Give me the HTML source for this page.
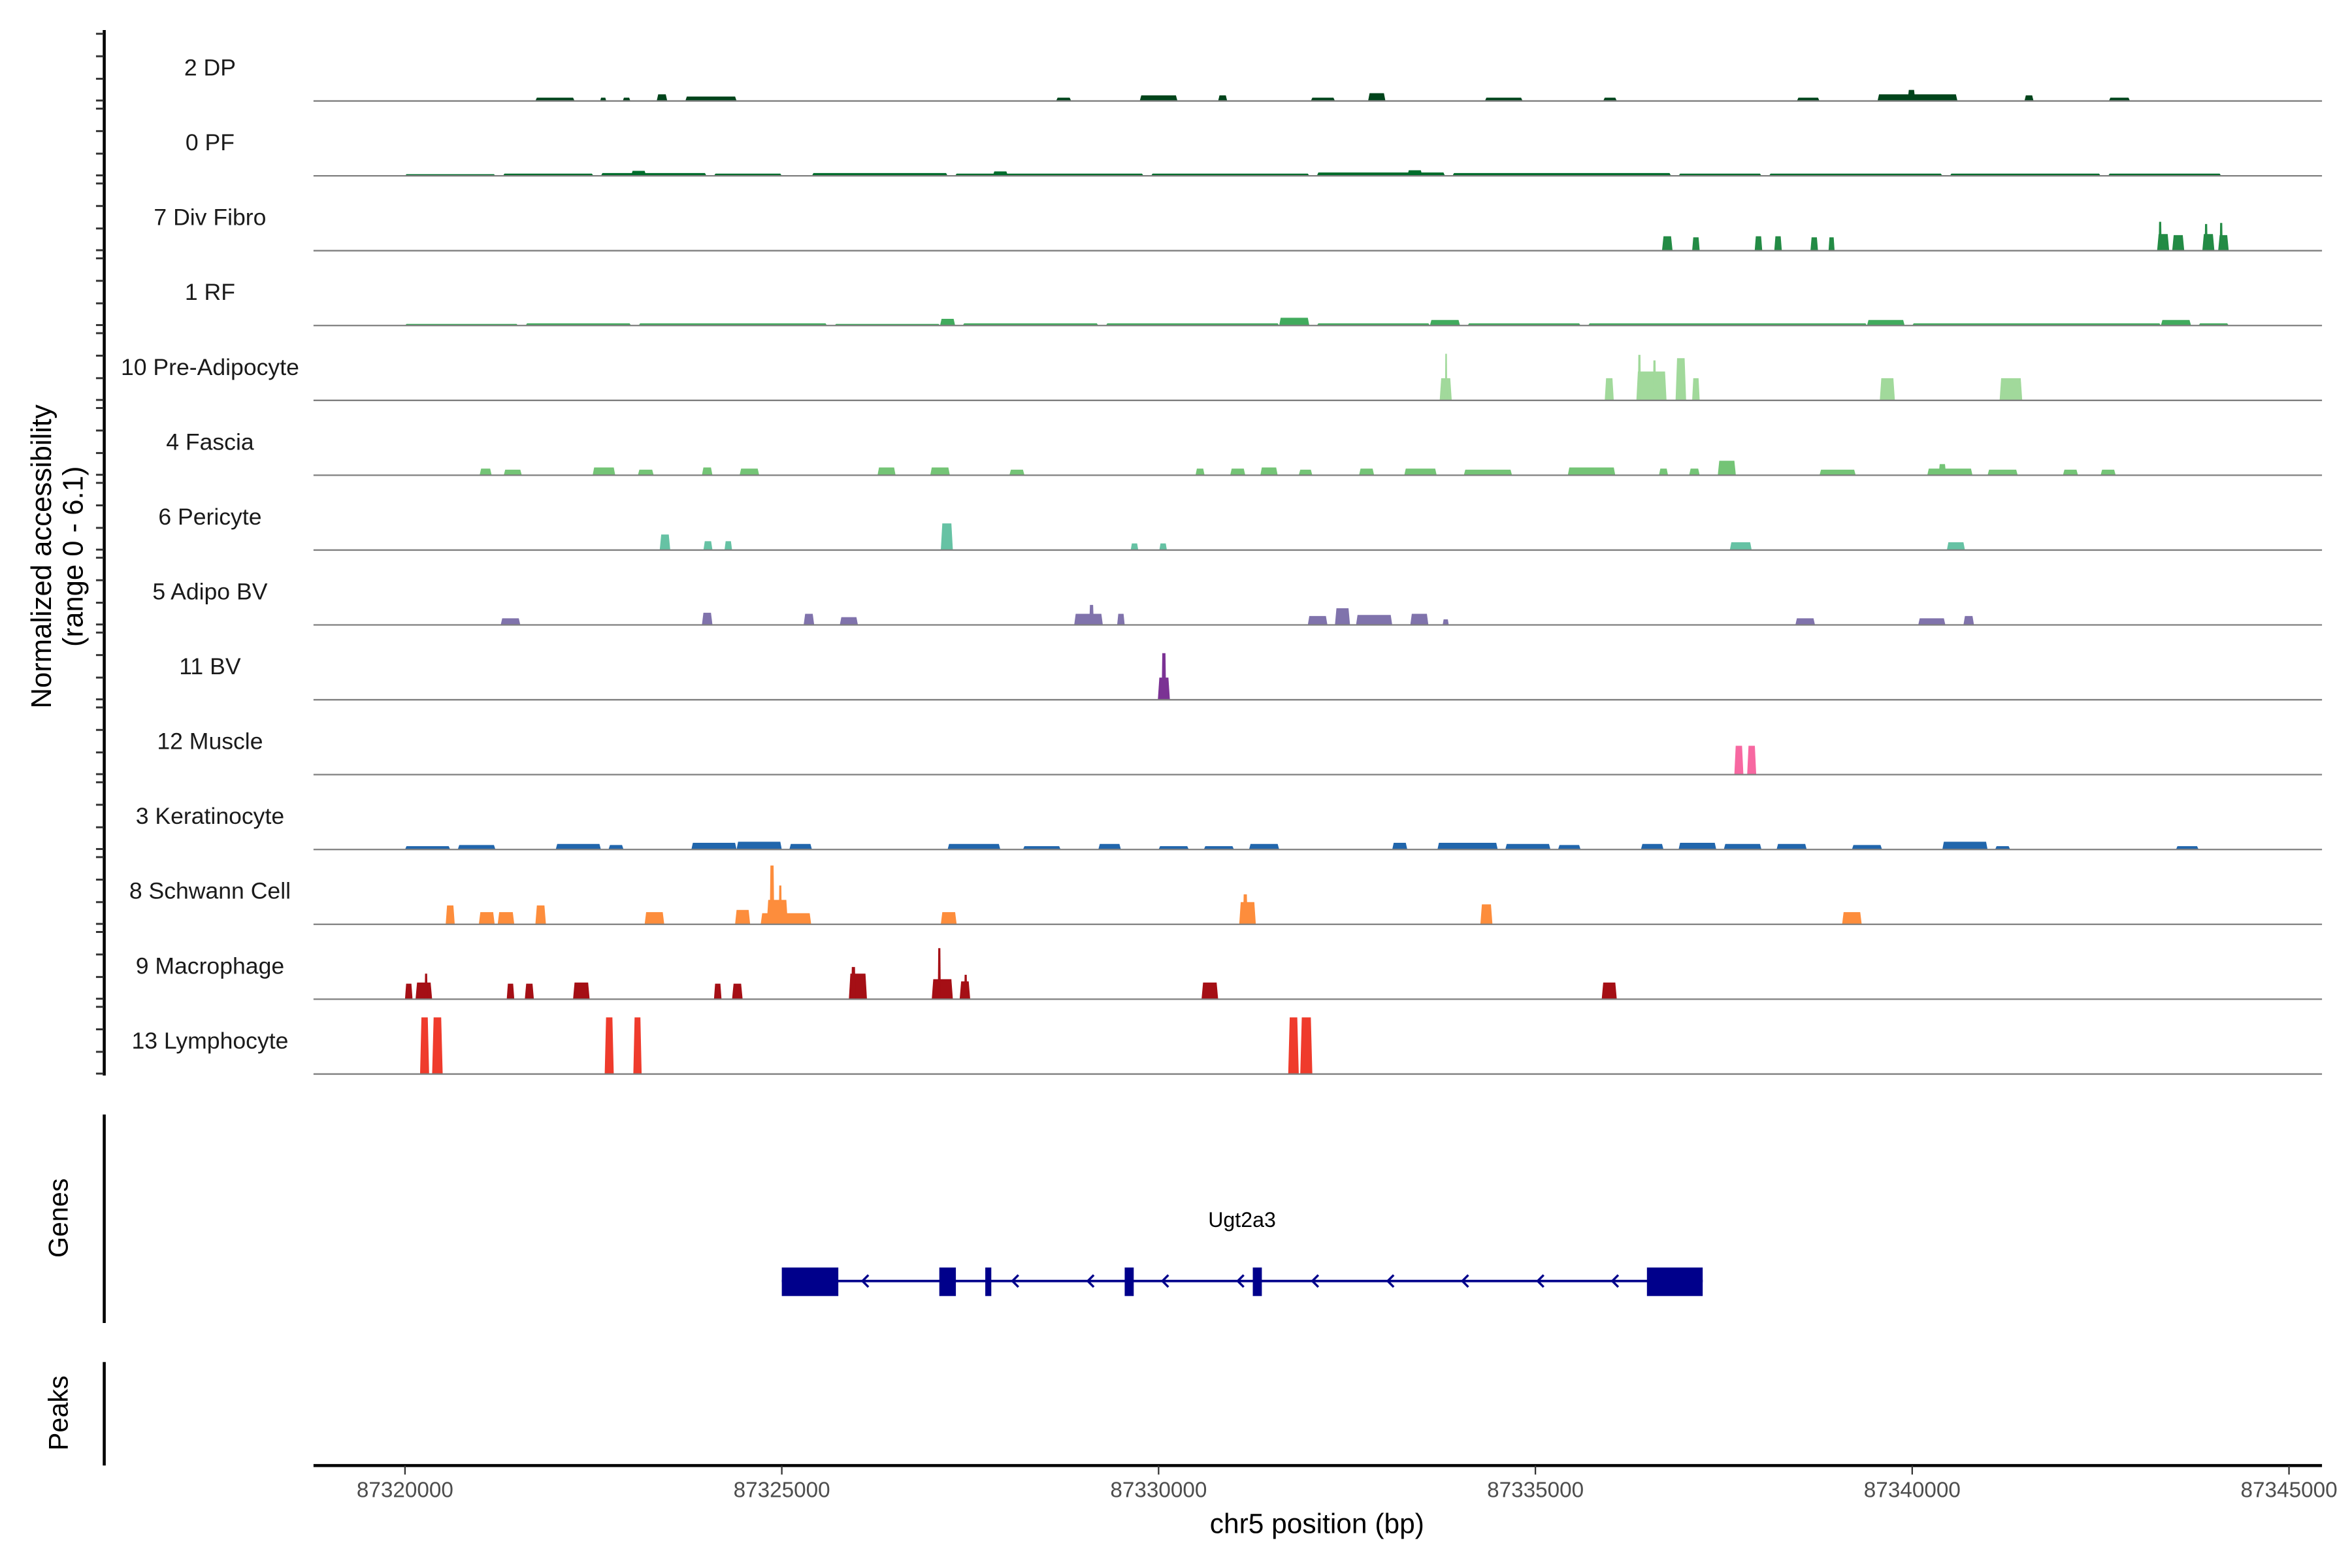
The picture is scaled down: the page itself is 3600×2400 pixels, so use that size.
<!DOCTYPE html>
<html><head><meta charset="utf-8"><style>
html,body{margin:0;padding:0;background:#fff;}
svg{display:block;font-family:"Liberation Sans",sans-serif;}
</style></head><body>
<svg id="chart" width="3600" height="2400" viewBox="0 0 1568 1045.3" xmlns="http://www.w3.org/2000/svg">
<rect width="1568" height="1045.3" fill="#fff"/>
<g id="tracks"></g>
<g id="axes"></g>
<g id="gene"></g>
<text transform="translate(34,371) rotate(-90)" text-anchor="middle" font-size="19" fill="#000">Normalized accessibility</text>
<text transform="translate(55,371) rotate(-90)" text-anchor="middle" font-size="19" fill="#000">(range 0 - 6.1)</text>
<text transform="translate(45,812) rotate(-90)" text-anchor="middle" font-size="18" fill="#000">Genes</text>
<text transform="translate(45,942) rotate(-90)" text-anchor="middle" font-size="18" fill="#000">Peaks</text>
<text x="878" y="1022" text-anchor="middle" font-size="18.5" fill="#000">chr5 position (bp)</text>
<text x="828" y="818" text-anchor="middle" font-size="14" fill="#000">Ugt2a3</text>
</svg>
<script>
// genomic offsets in kb from 87,320,000
const trackNames = ["2 DP","0 PF","7 Div Fibro","1 RF","10 Pre-Adipocyte","4 Fascia","6 Pericyte","5 Adipo BV","11 BV","12 Muscle","3 Keratinocyte","8 Schwann Cell","9 Macrophage","13 Lymphocyte"];
const trackColors = ["#00441b","#006d2c","#238b45","#41ab5d","#a1d99b","#74c476","#66c2a4","#8073ac","#7b3294","#f768a1","#2166ac","#fd8d3c","#a50f15","#ef3b2c"];
const peaksDP = [[1.73,2.25,.3],[2.59,2.67,.3],[2.89,2.99,.3],[3.34,3.48,.6],[3.72,4.40,.4],[8.64,8.84,.3],[9.75,10.25,.5],[10.79,10.91,.5],[12.02,12.34,.3],[12.78,13.01,.7],[14.33,14.83,.3],[15.90,16.08,.3],[18.47,18.77,.3],[19.54,20.60,.6],[19.94,20.04,1.0],[21.49,21.61,.5],[22.61,22.89,.3]];
const peaksPF = [[0,1.2,.15],[1.3,2.5,.2],[2.6,4.0,.25],[3.0,3.2,.45],[4.1,5.0,.2],[5.4,7.2,.25],[7.3,9.8,.2],[7.8,8.0,.4],[9.9,12.0,.2],[12.1,13.8,.3],[13.3,13.5,.5],[13.9,16.8,.25],[16.9,18.0,.2],[18.1,20.4,.2],[20.5,22.5,.2],[22.6,24.1,.2]];
const peaksDivFibro = [[16.68,16.82,1.3],[17.08,17.18,1.2],[17.91,18.01,1.3],[18.17,18.27,1.3],[18.65,18.75,1.2],[18.89,18.97,1.2],[23.25,23.41,1.5],[23.27,23.31,2.6],[23.45,23.61,1.4],[23.85,24.01,1.5],[23.88,23.92,2.4],[24.06,24.20,1.4],[24.08,24.12,2.5]];
const peaksRF = [[0,1.5,.15],[1.6,3.0,.2],[3.1,5.6,.2],[5.7,7.1,.15],[7.1,7.3,.6],[7.4,9.2,.2],[9.3,11.6,.2],[11.6,12.0,.7],[12.1,13.6,.2],[13.6,14.0,.5],[14.1,15.6,.2],[15.7,19.4,.2],[19.4,19.9,.5],[20.0,23.3,.2],[23.3,23.7,.5],[23.8,24.2,.2]];
const peaksPreAdipo = [[13.73,13.89,2],[13.80,13.83,4.2],[15.92,16.04,2],[16.34,16.74,2.6],[16.36,16.40,4.1],[16.56,16.60,3.6],[16.86,17.00,3.8],[17.08,17.18,2],[19.57,19.77,2],[21.16,21.46,2]];
const peaksFascia = [[0.99,1.15,.6],[1.31,1.55,.5],[2.49,2.79,.7],[3.09,3.30,.5],[3.94,4.08,.7],[4.44,4.70,.6],[6.27,6.51,.7],[6.97,7.23,.7],[8.02,8.22,.5],[10.49,10.61,.6],[10.95,11.15,.6],[11.35,11.58,.7],[11.86,12.04,.5],[12.66,12.86,.6],[13.26,13.69,.6],[14.05,14.69,.5],[15.43,16.06,.7],[16.64,16.76,.6],[17.04,17.18,.6],[17.42,17.66,1.3],[18.77,19.25,.5],[20.20,20.80,.6],[20.35,20.45,1.0],[21.0,21.4,.5],[22.0,22.2,.5],[22.5,22.7,.5]];
const peaksPericyte = [[3.38,3.52,1.4],[3.96,4.08,.8],[4.24,4.34,.8],[7.11,7.27,2.4],[9.63,9.73,.6],[10.01,10.11,.6],[17.58,17.87,.7],[20.46,20.70,.7]];
const peaksAdipoBV = [[1.27,1.53,.6],[3.94,4.08,1.1],[5.29,5.43,1.0],[5.77,6.01,.7],[8.88,9.26,1.0],[9.08,9.14,1.8],[9.45,9.55,1.0],[11.98,12.24,.8],[12.34,12.54,1.5],[12.62,13.10,.9],[13.34,13.58,1.0],[13.77,13.85,.5],[18.45,18.71,.6],[20.08,20.44,.6],[20.68,20.82,.8]];
const peaksBV = [[9.99,10.15,2],[10.04,10.10,4.2]];
const peaksMuscle = [[17.64,17.76,2.6],[17.81,17.93,2.6]];
const peaksKerat = [[0,0.6,.3],[0.7,1.2,.4],[2.0,2.6,.5],[2.7,2.9,.4],[3.8,4.4,.6],[4.4,5.0,.7],[5.1,5.4,.5],[7.2,7.9,.5],[8.2,8.7,.3],[9.2,9.5,.5],[10.0,10.4,.3],[10.6,11.0,.3],[11.2,11.6,.5],[13.1,13.3,.6],[13.7,14.5,.6],[14.6,15.2,.5],[15.3,15.6,.4],[16.4,16.7,.5],[16.9,17.4,.6],[17.5,18.0,.5],[18.2,18.6,.5],[19.2,19.6,.4],[20.4,21.0,.7],[21.1,21.3,.3],[23.5,23.8,.3]];
const peaksSchwann = [[0.54,0.66,1.7],[0.98,1.19,1.1],[1.23,1.45,1.1],[1.73,1.87,1.7],[3.18,3.44,1.1],[4.38,4.58,1.3],[4.72,5.39,1.0],[4.80,5.08,2.2],[4.84,4.90,5.3],[4.96,5.00,3.5],[7.11,7.32,1.1],[11.07,11.29,2.0],[11.12,11.18,2.7],[14.27,14.43,1.8],[19.07,19.33,1.1]];
const peaksMacro = [[0,0.1,1.4],[0.14,0.36,1.5],[0.26,0.30,2.3],[1.35,1.45,1.4],[1.59,1.71,1.4],[2.23,2.45,1.5],[4.10,4.20,1.4],[4.34,4.48,1.4],[5.89,6.13,2.3],[5.92,5.98,2.9],[6.99,7.27,1.8],[7.07,7.11,4.6],[7.36,7.50,1.6],[7.42,7.46,2.2],[10.57,10.79,1.5],[15.88,16.08,1.5]];
const peaksLymph = [[0.2,0.32,5.1],[0.36,0.5,5.1],[2.65,2.77,5.1],[3.03,3.14,5.1],[11.72,11.86,5.1],[11.88,12.04,5.1]];
const allPeaks = [peaksDP,peaksPF,peaksDivFibro,peaksRF,peaksPreAdipo,peaksFascia,peaksPericyte,peaksAdipoBV,peaksBV,peaksMuscle,peaksKerat,peaksSchwann,peaksMacro,peaksLymph];
const xTicks = [87320000,87325000,87330000,87335000,87340000,87345000];
const exons = [[5.0,5.75],[7.09,7.31],[7.70,7.78],[9.55,9.67],[11.25,11.37],[16.48,17.22]];
const geneSpan = [5.0,17.22];
const strandArrows = [6.07,8.06,9.06,10.05,11.05,12.04,13.04,14.03,15.03,16.02];

const NS="http://www.w3.org/2000/svg";
const xs = kb => 270 + kb*50.24;
const xbp = bp => xs((bp-87320000)/1000);
const base = i => 67.3 + i*49.9;
const hs = v => v*7.4;
function mk(tag, attrs, parent){const e=document.createElementNS(NS,tag);for(const k in attrs)e.setAttribute(k,attrs[k]);parent.appendChild(e);return e;}
const tracks=document.getElementById('tracks');
trackNames.forEach((name,i)=>{
  const g=mk('g',{},tracks);
  
  
  const b=base(i);
  const lab=mk('text',{x:140,y:b-17,'text-anchor':'middle','font-size':15.5,fill:'#1a1a1a'},g);
  lab.textContent=name;
  
  
  allPeaks[i].forEach(p=>{
    const x0=xs(p[0]),x1=Math.max(xs(p[1]),x0+1.2),t=b-hs(p[2]),w=x1-x0,sl=Math.min(1,w*0.15);
    const poly=mk('polygon',{points:`${x0},${b} ${x0+sl},${t} ${x1-sl},${t} ${x1},${b}`,fill:trackColors[i]},g);
    
    
  });
  const bl=mk('line',{x1:209,x2:1548,y1:b,y2:b,stroke:'#7f7f7f','stroke-width':1},g);
  
  
});
const axes=document.getElementById('axes');
mk('line',{x1:69.5,x2:69.5,y1:20,y2:717,stroke:'#000','stroke-width':2},axes);
for(let i=0;i<14;i++){[0,15,30,44.5].forEach(o=>{const y=22.5+i*49.9+o;mk('line',{x1:64,x2:69,y1:y,y2:y,stroke:'#333','stroke-width':1.3},axes);});}
mk('line',{x1:69.5,x2:69.5,y1:743,y2:882,stroke:'#000','stroke-width':2},axes);
mk('line',{x1:69.5,x2:69.5,y1:908,y2:977,stroke:'#000','stroke-width':2},axes);
mk('line',{x1:209,x2:1548,y1:977,y2:977,stroke:'#000','stroke-width':2},axes);
xTicks.forEach(v=>{
  const x=xbp(v);
  mk('line',{x1:x,x2:x,y1:977,y2:983,stroke:'#333','stroke-width':1},axes);
  const t=mk('text',{x:x,y:998,'text-anchor':'middle','font-size':14.5,fill:'#4d4d4d'},axes);
  t.textContent=String(v);
  
  
});
const gene=document.getElementById('gene');
const gl=mk('line',{x1:xs(geneSpan[0]),x2:xs(geneSpan[1]),y1:854,y2:854,stroke:'#00008b','stroke-width':1.6},gene);


exons.forEach(e=>{
  const r=mk('rect',{x:xs(e[0]),y:845,width:xs(e[1])-xs(e[0]),height:19,fill:'#00008b'},gene);
  
  
});
strandArrows.forEach(a=>{
  const x=xs(a);
  const p=mk('polyline',{points:`${x+4},${850} ${x},${854} ${x+4},${858}`,fill:'none',stroke:'#00008b','stroke-width':1.5},gene);
  
  
});
</script>
</body></html>
